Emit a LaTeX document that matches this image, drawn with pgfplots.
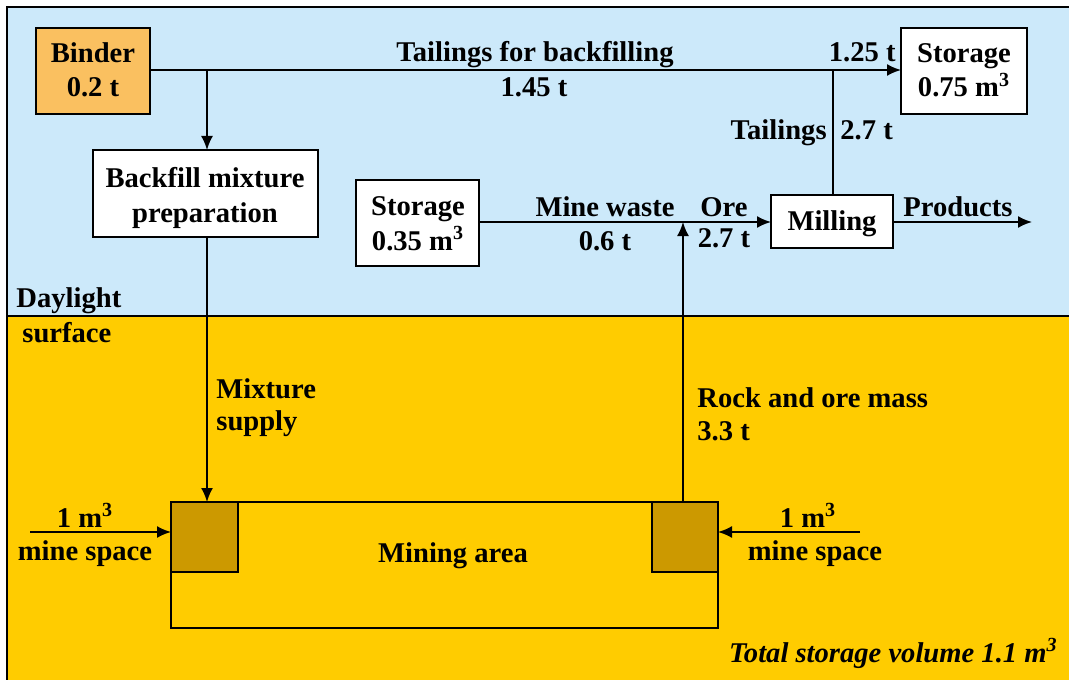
\documentclass[border=0pt]{standalone}
\usepackage{pgfplots}
\pgfplotsset{compat=1.18}
\usetikzlibrary{arrows.meta}
\usepackage{fontspec}
\setmainfont{Liberation Serif}
\definecolor{sky}{RGB}{204,233,250}
\definecolor{ground}{RGB}{255,204,0}
\definecolor{pillar}{RGB}{204,153,0}
\definecolor{binder}{RGB}{250,192,96}
\begin{document}
\begin{tikzpicture}[
  lbl/.style={font=\fontsize{14.3}{16}\selectfont\bfseries, inner sep=0pt, anchor=base},
  arr/.style={-{Latex[length=7pt,width=6pt]}, line width=0.9pt, black},
  ln/.style={line width=0.9pt, black},
  box/.style={line width=1.2pt, draw=black},
]
\begin{axis}[
  scale only axis, width=534.5pt, height=339.5pt,
  xmin=0, xmax=1069, ymin=0, ymax=679, y dir=reverse,
  axis lines=none, clip=true,
]
% page
\addplot[fill=white, draw=none] coordinates {(0,0) (1069,0) (1069,679) (0,679)} --cycle;
% background layers
\addplot[fill=sky, draw=none] coordinates {(7,7) (1080,7) (1080,316) (7,316)} --cycle;
\addplot[fill=ground, draw=none] coordinates {(7,316) (1080,316) (1080,690) (7,690)} --cycle;
\addplot[line width=1.2pt] coordinates {(7,690) (7,7) (1080,7)};
\addplot[line width=1.2pt] coordinates {(7,316) (1080,316)};
% flows
\addplot[arr] coordinates {(150,70) (901,70)};
\addplot[arr] coordinates {(207,70) (207,150)};
\addplot[ln] coordinates {(833,195) (833,70)};
\addplot[arr] coordinates {(479,222) (771,222)};
\addplot[arr] coordinates {(683,502) (683,222)};
\addplot[arr] coordinates {(893,222) (1032,222)};
\addplot[arr] coordinates {(207,237) (207,502)};
\addplot[arr] coordinates {(30,532) (171,532)};
\addplot[arr] coordinates {(860,532) (718,532)};
% boxes
\addplot[box, fill=binder] coordinates {(36,28) (150,28) (150,114) (36,114)} --cycle;
\addplot[box, fill=white] coordinates {(93,150) (318,150) (318,237) (93,237)} --cycle;
\addplot[box, fill=white] coordinates {(356,180) (479,180) (479,266) (356,266)} --cycle;
\addplot[box, fill=white] coordinates {(901,28) (1027,28) (1027,114) (901,114)} --cycle;
\addplot[box, fill=white] coordinates {(771,195) (893,195) (893,248) (771,248)} --cycle;
% mining area
\addplot[box, fill=ground] coordinates {(171,502) (718,502) (718,628) (171,628)} --cycle;
\addplot[box, fill=pillar] coordinates {(171,502) (238,502) (238,572) (171,572)} --cycle;
\addplot[box, fill=pillar] coordinates {(652,502) (718,502) (718,572) (652,572)} --cycle;
% texts
\node[lbl] at (93,63) {Binder};
\node[lbl] at (93,97) {0.2 t};
\node[lbl] at (205,188) {Backfill mixture};
\node[lbl] at (205,222) {preparation};
\node[lbl] at (418,215) {Storage};
\node[lbl] at (418,250) {0.35 m\textsuperscript{3}};
\node[lbl] at (964,63) {Storage};
\node[lbl] at (964,97) {0.75 m\textsuperscript{3}};
\node[lbl] at (832,230) {Milling};
\node[lbl] at (535,62) {Tailings for backfilling};
\node[lbl] at (534,97) {1.45 t};
\node[lbl, anchor=base east] at (896,62) {1.25 t};
\node[lbl, anchor=base east] at (827,140) {Tailings};
\node[lbl, anchor=base west] at (840,140) {2.7 t};
\node[lbl] at (605,217) {Mine waste};
\node[lbl] at (605,250) {0.6 t};
\node[lbl] at (724,217) {Ore};
\node[lbl] at (724,248) {2.7 t};
\node[lbl] at (958,217) {Products};
\node[lbl, anchor=base west] at (16,307) {Daylight};
\node[lbl, anchor=base west] at (22,342) {surface};
\node[lbl, anchor=base west] at (216,398) {Mixture};
\node[lbl, anchor=base west] at (216,430) {supply};
\node[lbl, anchor=base west] at (697,407) {Rock and ore mass};
\node[lbl, anchor=base west] at (697,440) {3.3 t};
\node[lbl] at (85,527) {1 m\textsuperscript{3}};
\node[lbl] at (85,560) {mine space};
\node[lbl] at (808,527) {1 m\textsuperscript{3}};
\node[lbl] at (815,560) {mine space};
\node[lbl] at (453,562) {Mining area};
\node[lbl, anchor=base east, font=\fontsize{14.3}{16}\selectfont\bfseries\itshape] at (1058,662) {Total storage volume 1.1 m\textsuperscript{3}};
\end{axis}
\end{tikzpicture}
\end{document}
